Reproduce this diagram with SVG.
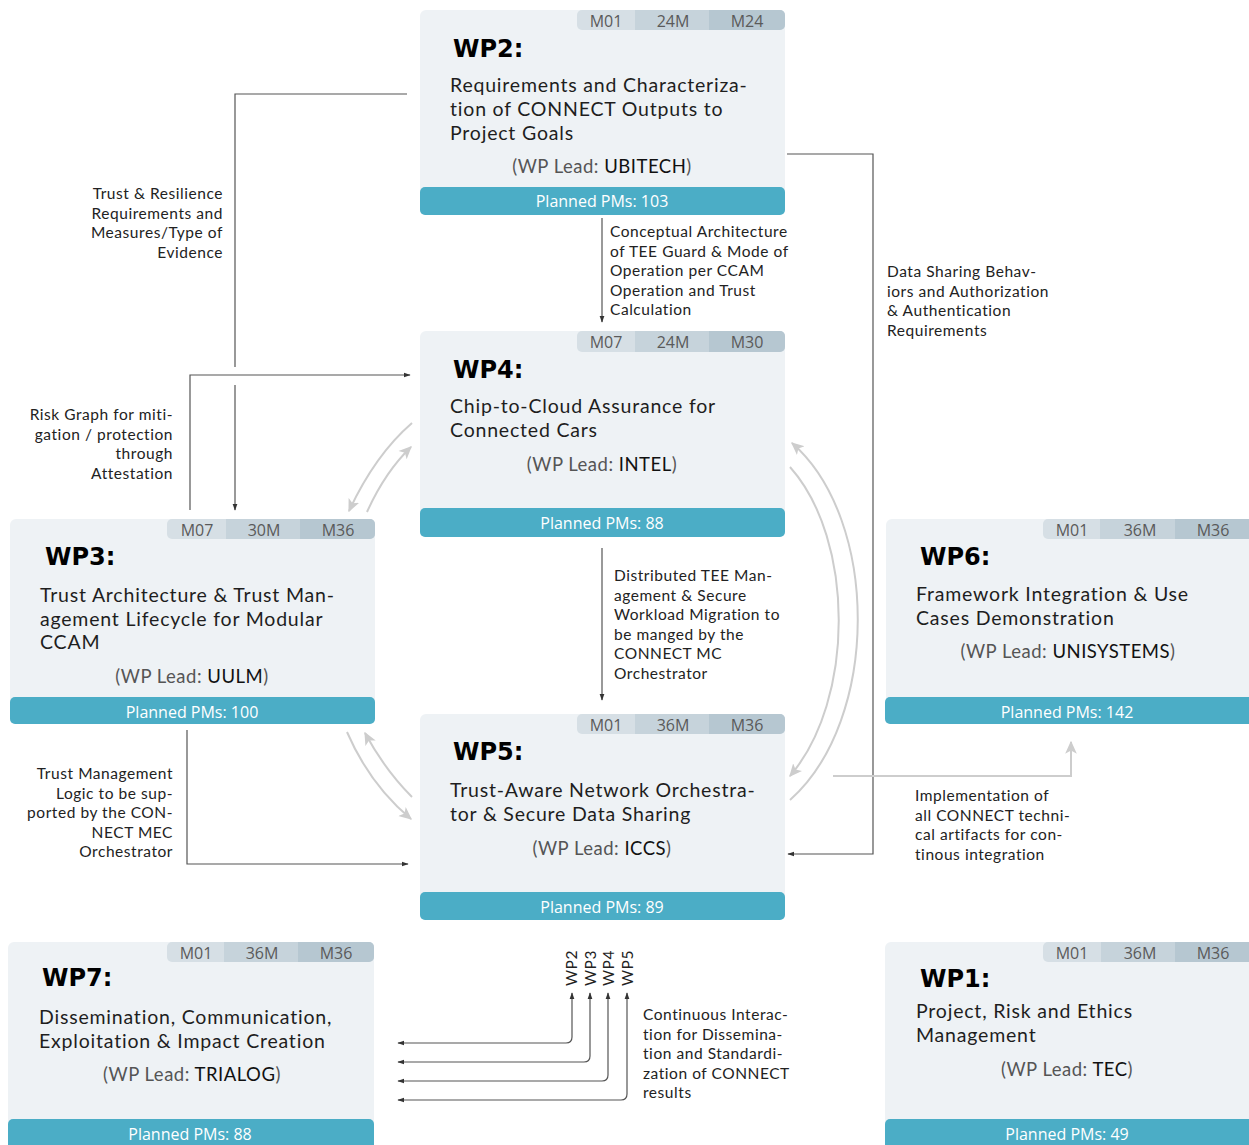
<svg xmlns="http://www.w3.org/2000/svg" width="1249" height="1145" viewBox="0 0 1249 1145">
<style>
.box{fill:#eef2f5}
.t1{fill:#d6dfe5}.t2{fill:#c6d3db}.t3{fill:#b6c7d1}
.bar{fill:#4badc6}
.tab{font-family:"Open Sans",sans-serif;font-size:16px;fill:#5a5a5a;text-anchor:middle}
.title{font-family:"DejaVu Sans",sans-serif;font-weight:bold;font-size:24px;fill:#000}
.body{font-family:Lato,"Open Sans",sans-serif;font-size:19.5px;letter-spacing:0.8px;fill:#1e1e1e}
.lead{font-family:Lato,"Open Sans",sans-serif;font-size:18.5px;letter-spacing:0.5px;fill:#555;text-anchor:middle}
.lead tspan{fill:#111}
.pm{font-family:"Open Sans",sans-serif;font-size:16px;fill:#fff;text-anchor:middle}
.lbl{font-family:Lato,"Open Sans",sans-serif;font-size:15.5px;letter-spacing:0.55px;fill:#222}
.end{text-anchor:end}
.dk{fill:none;stroke:#555;stroke-width:1.2}
.lt{fill:none;stroke:#cdcdcd;stroke-width:2}
</style>
<defs>
<marker id="ad" viewBox="0 0 10 10" refX="9" refY="5" markerWidth="7" markerHeight="7" markerUnits="userSpaceOnUse" orient="auto-start-reverse"><path d="M0,1.5 L10,5 L0,8.5z" fill="#333"/></marker>
<marker id="al" viewBox="0 0 10 10" refX="9" refY="5" markerWidth="13" markerHeight="13" markerUnits="userSpaceOnUse" orient="auto"><path d="M0,0.5 L10,5 L0,9.5 L2.5,5z" fill="#cdcdcd"/></marker>
</defs>

<g id="connectors">
<path class="dk" d="M407,94 H235 V367"/>
<path class="dk" d="M235,385 V510" marker-end="url(#ad)"/>
<path class="dk" d="M190,510 V375 H410" marker-end="url(#ad)"/>
<path class="dk" d="M602,218 V322" marker-end="url(#ad)"/>
<path class="dk" d="M602,548 V700" marker-end="url(#ad)"/>
<path class="dk" d="M787,154 H873 V854 H788" marker-end="url(#ad)"/>
<path class="dk" d="M187,730 V864 H408" marker-end="url(#ad)"/>
<path class="lt" d="M833,776 H1071 V742" marker-end="url(#al)"/>
<path class="lt" d="M412,423 Q375,455 349,511" marker-end="url(#al)"/>
<path class="lt" d="M367,512 Q385,472 411,447" marker-end="url(#al)"/>
<path class="lt" d="M347,732 Q370,785 411,819" marker-end="url(#al)"/>
<path class="lt" d="M412,797 Q385,770 365,733" marker-end="url(#al)"/>
<path class="lt" d="M790,800 C880,720 880,520 792,443" marker-end="url(#al)"/>
<path class="lt" d="M790,467 C855,540 855,700 790,776" marker-end="url(#al)"/>
<path class="dk" d="M572,993 V1037 Q572,1043 566,1043 H398" marker-start="url(#ad)" marker-end="url(#ad)"/>
<path class="dk" d="M590,993 V1056 Q590,1062 584,1062 H398" marker-start="url(#ad)" marker-end="url(#ad)"/>
<path class="dk" d="M608,993 V1075 Q608,1081 602,1081 H398" marker-start="url(#ad)" marker-end="url(#ad)"/>
<path class="dk" d="M627,993 V1094 Q627,1100 621,1100 H398" marker-start="url(#ad)" marker-end="url(#ad)"/>
<text class="lbl end"><tspan x="223" y="199">Trust &amp; Resilience</tspan><tspan x="223" y="218.5">Requirements and</tspan><tspan x="223" y="238">Measures/Type of</tspan><tspan x="223" y="257.5">Evidence</tspan></text>
<text class="lbl end"><tspan x="173" y="420">Risk Graph for miti-</tspan><tspan x="173" y="439.5">gation / protection</tspan><tspan x="173" y="459">through</tspan><tspan x="173" y="478.5">Attestation</tspan></text>
<text class="lbl"><tspan x="610" y="237">Conceptual Architecture</tspan><tspan x="610" y="256.5">of TEE Guard &amp; Mode of</tspan><tspan x="610" y="276">Operation per CCAM</tspan><tspan x="610" y="295.5">Operation and Trust</tspan><tspan x="610" y="315">Calculation</tspan></text>
<text class="lbl"><tspan x="614" y="581">Distributed TEE Man-</tspan><tspan x="614" y="600.5">agement &amp; Secure</tspan><tspan x="614" y="620">Workload Migration to</tspan><tspan x="614" y="639.5">be manged by the</tspan><tspan x="614" y="659">CONNECT MC</tspan><tspan x="614" y="678.5">Orchestrator</tspan></text>
<text class="lbl"><tspan x="887" y="277">Data Sharing Behav-</tspan><tspan x="887" y="296.5">iors and Authorization</tspan><tspan x="887" y="316">&amp; Authentication</tspan><tspan x="887" y="335.5">Requirements</tspan></text>
<text class="lbl"><tspan x="915" y="801">Implementation of</tspan><tspan x="915" y="820.5">all CONNECT techni-</tspan><tspan x="915" y="840">cal artifacts for con-</tspan><tspan x="915" y="859.5">tinous integration</tspan></text>
<text class="lbl end"><tspan x="173" y="779">Trust Management</tspan><tspan x="173" y="798.5">Logic to be sup-</tspan><tspan x="173" y="818">ported by the CON-</tspan><tspan x="173" y="837.5">NECT MEC</tspan><tspan x="173" y="857">Orchestrator</tspan></text>
<text class="lbl"><tspan x="643" y="1020">Continuous Interac-</tspan><tspan x="643" y="1039.5">tion for Dissemina-</tspan><tspan x="643" y="1059">tion and Standardi-</tspan><tspan x="643" y="1078.5">zation of CONNECT</tspan><tspan x="643" y="1098">results</tspan></text>
<text class="lbl" transform="translate(577,986) rotate(-90)">WP2</text>
<text class="lbl" transform="translate(596,986) rotate(-90)">WP3</text>
<text class="lbl" transform="translate(614,986) rotate(-90)">WP4</text>
<text class="lbl" transform="translate(633,986) rotate(-90)">WP5</text>
</g>

<g id="wp2">
<rect class="box" x="420" y="10" width="365" height="205" rx="6"/>
<rect class="t1" x="577" y="10" width="208" height="20" rx="5"/>
<rect class="t3" x="700" y="10" width="85" height="20" rx="5"/>
<rect class="t2" x="635" y="10" width="74" height="20"/>
<text class="tab" x="606" y="27">M01</text><text class="tab" x="673" y="27">24M</text><text class="tab" x="747" y="27">M24</text>
<text class="title" x="453" y="57">WP2:</text>
<text class="body"><tspan x="450" y="92">Requirements and Characteriza-</tspan><tspan x="450" y="116">tion of CONNECT Outputs to</tspan><tspan x="450" y="140">Project Goals</tspan></text>
<text class="lead" x="602" y="173">(WP Lead: <tspan>UBITECH</tspan>)</text>
<rect class="bar" x="420" y="187" width="365" height="28" rx="5"/>
<text class="pm" x="602" y="207">Planned PMs: 103</text>
</g>

<g id="wp4">
<rect class="box" x="420" y="331" width="365" height="206" rx="6"/>
<rect class="t1" x="577" y="331" width="208" height="21" rx="5"/>
<rect class="t3" x="700" y="331" width="85" height="21" rx="5"/>
<rect class="t2" x="635" y="331" width="74" height="21"/>
<text class="tab" x="606" y="348">M07</text><text class="tab" x="673" y="348">24M</text><text class="tab" x="747" y="348">M30</text>
<text class="title" x="453" y="378">WP4:</text>
<text class="body"><tspan x="450" y="413">Chip-to-Cloud Assurance for</tspan><tspan x="450" y="437">Connected Cars</tspan></text>
<text class="lead" x="602" y="471">(WP Lead: <tspan>INTEL</tspan>)</text>
<rect class="bar" x="420" y="508" width="365" height="29" rx="5"/>
<text class="pm" x="602" y="529">Planned PMs: 88</text>
</g>

<g id="wp3">
<rect class="box" x="10" y="519" width="365" height="205" rx="6"/>
<rect class="t1" x="167" y="519" width="208" height="20" rx="5"/>
<rect class="t3" x="290" y="519" width="85" height="20" rx="5"/>
<rect class="t2" x="226" y="519" width="74" height="20"/>
<text class="tab" x="197" y="536">M07</text><text class="tab" x="264" y="536">30M</text><text class="tab" x="338" y="536">M36</text>
<text class="title" x="45" y="565">WP3:</text>
<text class="body"><tspan x="40" y="602">Trust Architecture &amp; Trust Man-</tspan><tspan x="40" y="625.5">agement Lifecycle for Modular</tspan><tspan x="40" y="649">CCAM</tspan></text>
<text class="lead" x="192" y="683">(WP Lead: <tspan>UULM</tspan>)</text>
<rect class="bar" x="10" y="697" width="365" height="27" rx="5"/>
<text class="pm" x="192" y="718">Planned PMs: 100</text>
</g>

<g id="wp5">
<rect class="box" x="420" y="714" width="365" height="206" rx="6"/>
<rect class="t1" x="577" y="714" width="208" height="20" rx="5"/>
<rect class="t3" x="700" y="714" width="85" height="20" rx="5"/>
<rect class="t2" x="635" y="714" width="74" height="20"/>
<text class="tab" x="606" y="731">M01</text><text class="tab" x="673" y="731">36M</text><text class="tab" x="747" y="731">M36</text>
<text class="title" x="453" y="760">WP5:</text>
<text class="body"><tspan x="450" y="797">Trust-Aware Network Orchestra-</tspan><tspan x="450" y="820.5">tor &amp; Secure Data Sharing</tspan></text>
<text class="lead" x="602" y="855">(WP Lead: <tspan>ICCS</tspan>)</text>
<rect class="bar" x="420" y="892" width="365" height="28" rx="5"/>
<text class="pm" x="602" y="913">Planned PMs: 89</text>
</g>

<g id="wp6">
<rect class="box" x="886" y="519" width="370" height="205" rx="6"/>
<rect class="t1" x="1043" y="519" width="212" height="20" rx="5"/>
<rect class="t2" x="1100" y="519" width="75" height="20"/>
<rect class="t3" x="1175" y="519" width="80" height="20"/>
<text class="tab" x="1072" y="536">M01</text><text class="tab" x="1140" y="536">36M</text><text class="tab" x="1213" y="536">M36</text>
<text class="title" x="920" y="565">WP6:</text>
<text class="body"><tspan x="916" y="601">Framework Integration &amp; Use</tspan><tspan x="916" y="624.5">Cases Demonstration</tspan></text>
<text class="lead" x="1068" y="658">(WP Lead: <tspan>UNISYSTEMS</tspan>)</text>
<rect class="bar" x="885" y="697" width="370" height="27" rx="5"/>
<text class="pm" x="1067" y="718">Planned PMs: 142</text>
</g>

<g id="wp7">
<rect class="box" x="8" y="942" width="366" height="210" rx="6"/>
<rect class="t1" x="167" y="942" width="207" height="20" rx="5"/>
<rect class="t3" x="290" y="942" width="84" height="20" rx="5"/>
<rect class="t2" x="224" y="942" width="74" height="20"/>
<text class="tab" x="196" y="959">M01</text><text class="tab" x="262" y="959">36M</text><text class="tab" x="336" y="959">M36</text>
<text class="title" x="42" y="986">WP7:</text>
<text class="body"><tspan x="39" y="1024">Dissemination, Communication,</tspan><tspan x="39" y="1047.5">Exploitation &amp; Impact Creation</tspan></text>
<text class="lead" x="192" y="1081">(WP Lead: <tspan>TRIALOG</tspan>)</text>
<rect class="bar" x="8" y="1119" width="366" height="32" rx="5"/>
<text class="pm" x="190" y="1140">Planned PMs: 88</text>
</g>

<g id="wp1">
<rect class="box" x="885" y="942" width="370" height="210" rx="6"/>
<rect class="t1" x="1043" y="942" width="212" height="20" rx="5"/>
<rect class="t2" x="1101" y="942" width="74" height="20"/>
<rect class="t3" x="1175" y="942" width="80" height="20"/>
<text class="tab" x="1072" y="959">M01</text><text class="tab" x="1140" y="959">36M</text><text class="tab" x="1213" y="959">M36</text>
<text class="title" x="920" y="987">WP1:</text>
<text class="body"><tspan x="916" y="1018">Project, Risk and Ethics</tspan><tspan x="916" y="1041.5">Management</tspan></text>
<text class="lead" x="1067" y="1076">(WP Lead: <tspan>TEC</tspan>)</text>
<rect class="bar" x="885" y="1119" width="370" height="32" rx="5"/>
<text class="pm" x="1067" y="1140">Planned PMs: 49</text>
</g>
</svg>
